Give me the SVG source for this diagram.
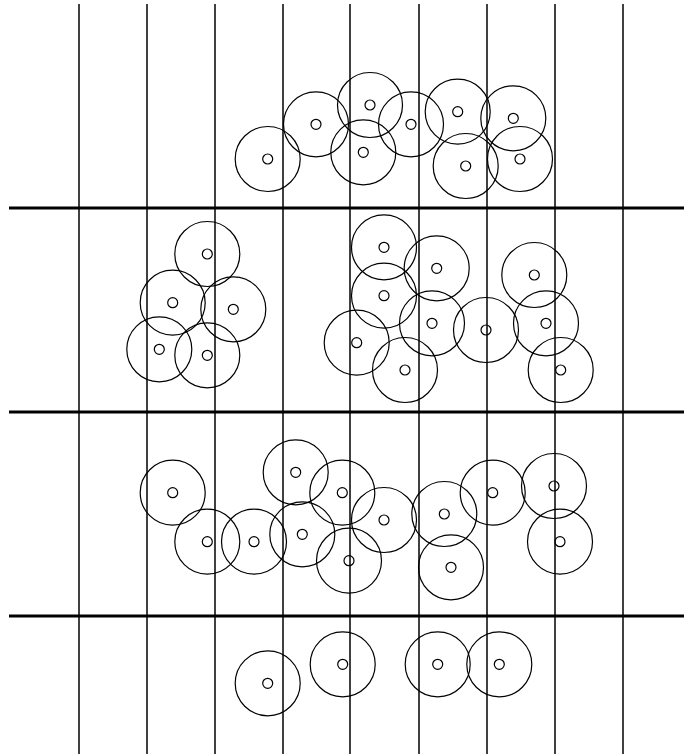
<svg xmlns="http://www.w3.org/2000/svg" width="684" height="754" viewBox="0 0 684 754">
<style>
.big{fill:none;stroke:#000;stroke-width:1.2}
.dot{fill:none;stroke:#000;stroke-width:1.2}
.v{stroke:#000;stroke-width:1.5}
.h{stroke:#000;stroke-width:3}
</style>
<defs>
<g id="node"><circle class="big" r="32.5"/><circle class="dot" r="5"/></g>
</defs>
<rect width="684" height="754" fill="#fff"/>
<g id="grid">
<line class="v" x1="79" y1="4" x2="79" y2="754"/>
<line class="v" x1="147" y1="4" x2="147" y2="754"/>
<line class="v" x1="215" y1="4" x2="215" y2="754"/>
<line class="v" x1="283" y1="4" x2="283" y2="754"/>
<line class="v" x1="350" y1="4" x2="350" y2="754"/>
<line class="v" x1="419" y1="4" x2="419" y2="754"/>
<line class="v" x1="487" y1="4" x2="487" y2="754"/>
<line class="v" x1="555" y1="4" x2="555" y2="754"/>
<line class="v" x1="623" y1="4" x2="623" y2="754"/>
<line class="h" x1="9" y1="208" x2="684" y2="208"/>
<line class="h" x1="9" y1="412" x2="684" y2="412"/>
<line class="h" x1="9" y1="616" x2="684" y2="616"/>
</g>
<g id="row1">
<g id="c1"><use href="#node" x="267.7" y="159"/></g>
<g id="c2"><use href="#node" x="316" y="124.3"/></g>
<g id="c3"><use href="#node" x="370" y="105"/></g>
<g id="c4"><use href="#node" x="363.3" y="152.3"/></g>
<g id="c5"><use href="#node" x="411" y="124.3"/></g>
<g id="c6"><use href="#node" x="457.7" y="111.7"/></g>
<g id="c7"><use href="#node" x="465.7" y="166"/></g>
<g id="c8"><use href="#node" x="513.3" y="118.3"/></g>
<g id="c9"><use href="#node" x="520" y="159"/></g>
</g>
<g id="row2">
<g id="c10"><use href="#node" x="207.3" y="254"/></g>
<g id="c11"><use href="#node" x="172.7" y="302.7"/></g>
<g id="c12"><use href="#node" x="233.3" y="309.3"/></g>
<g id="c13"><use href="#node" x="159.3" y="349.3"/></g>
<g id="c14"><use href="#node" x="207.3" y="355.3"/></g>
<g id="c15"><use href="#node" x="384" y="247.3"/></g>
<g id="c16"><use href="#node" x="436.7" y="268.3"/></g>
<g id="c17"><use href="#node" x="384" y="295.7"/></g>
<g id="c18"><use href="#node" x="534.3" y="275"/></g>
<g id="c19"><use href="#node" x="432" y="323.3"/></g>
<g id="c20"><use href="#node" x="486" y="330"/></g>
<g id="c21"><use href="#node" x="546" y="323.3"/></g>
<g id="c22"><use href="#node" x="356.7" y="342.7"/></g>
<g id="c23"><use href="#node" x="405" y="370"/></g>
<g id="c24"><use href="#node" x="560.7" y="370"/></g>
</g>
<g id="row3">
<g id="c25"><use href="#node" x="172.7" y="492.7"/></g>
<g id="c26"><use href="#node" x="207.3" y="541.7"/></g>
<g id="c27"><use href="#node" x="254" y="541.7"/></g>
<g id="c28"><use href="#node" x="295.7" y="472.3"/></g>
<g id="c29"><use href="#node" x="342.3" y="492.7"/></g>
<g id="c30"><use href="#node" x="302.3" y="534.3"/></g>
<g id="c31"><use href="#node" x="349" y="560.7"/></g>
<g id="c32"><use href="#node" x="384" y="520"/></g>
<g id="c33"><use href="#node" x="444.3" y="514"/></g>
<g id="c34"><use href="#node" x="492.7" y="492.7"/></g>
<g id="c35"><use href="#node" x="554" y="486"/></g>
<g id="c36"><use href="#node" x="451" y="567.3"/></g>
<g id="c37"><use href="#node" x="560" y="541.7"/></g>
</g>
<g id="row4">
<g id="c38"><use href="#node" x="267.7" y="683.3"/></g>
<g id="c39"><use href="#node" x="342.7" y="664.3"/></g>
<g id="c40"><use href="#node" x="437.7" y="664.3"/></g>
<g id="c41"><use href="#node" x="499.3" y="664.3"/></g>
</g>
</svg>
